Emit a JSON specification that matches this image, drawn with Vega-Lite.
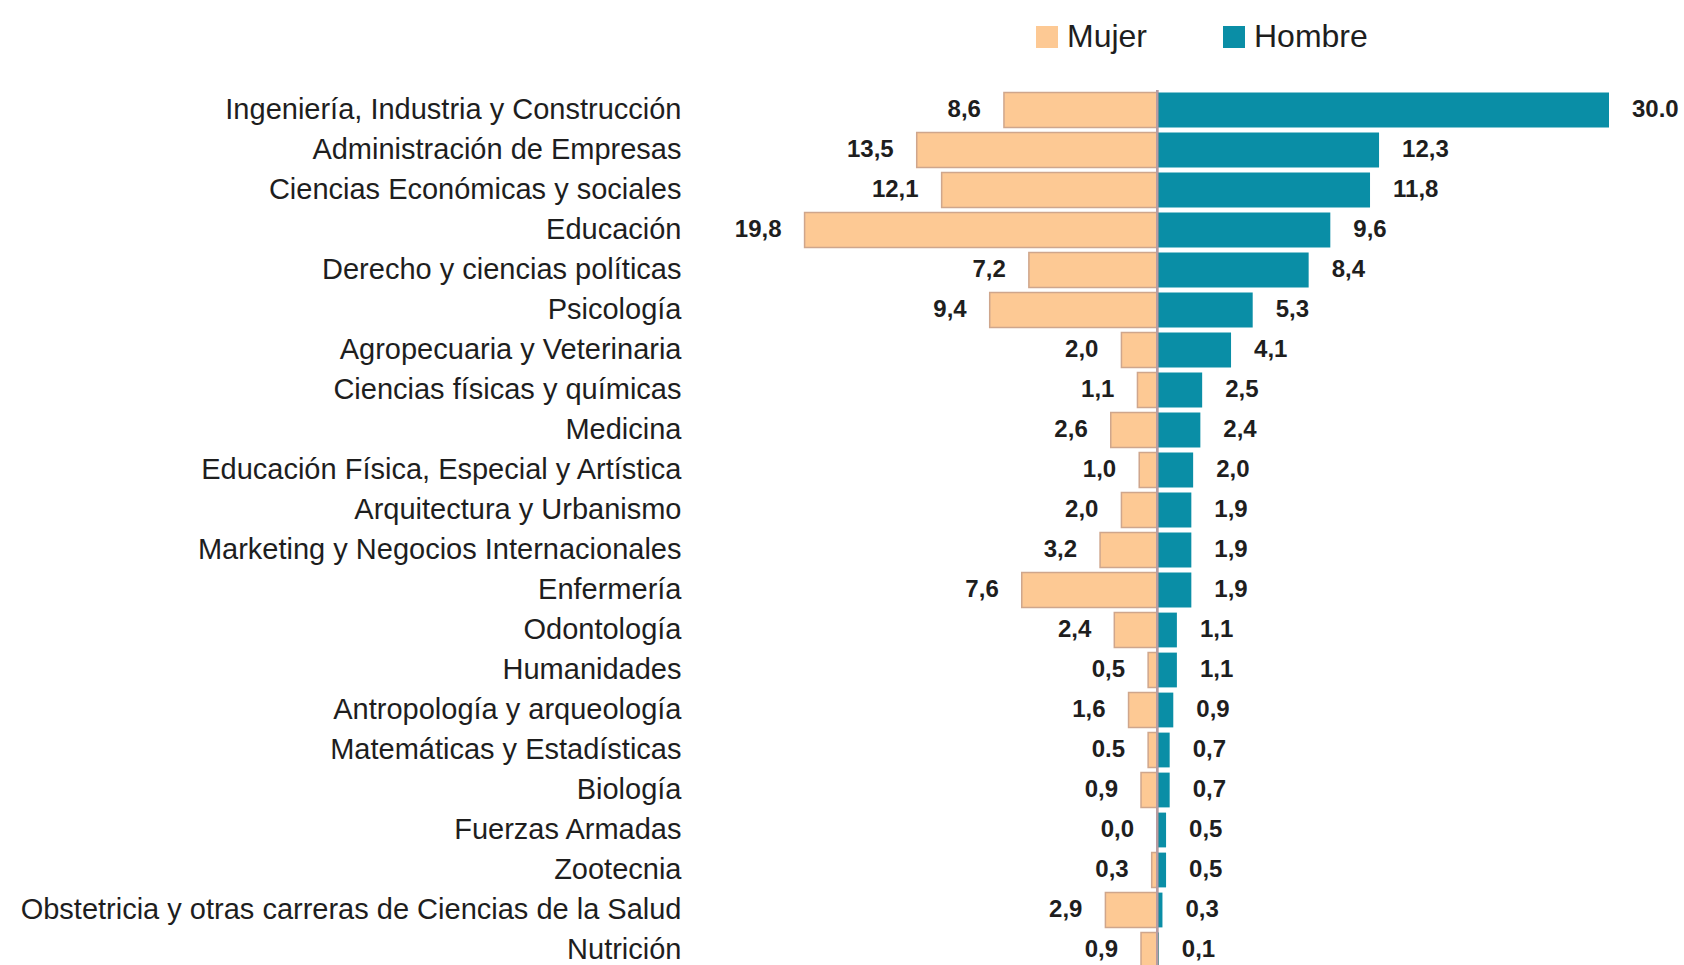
{
  "$schema": "https://vega.github.io/schema/vega-lite/v6.json",
  "autosize": {"type": "none"},
  "width": 918,
  "height": 880,
  "padding": {"left": 691, "top": 90, "right": 75, "bottom": 0},
  "background": "white",
  "data": {"values": [
    {"carrera": "Ingeniería, Industria y Construcción", "mujer": 8.6, "hombre": 30.0, "mujer_txt": "8,6", "hombre_txt": "30.0"},
    {"carrera": "Administración de Empresas", "mujer": 13.5, "hombre": 12.3, "mujer_txt": "13,5", "hombre_txt": "12,3"},
    {"carrera": "Ciencias Económicas y sociales", "mujer": 12.1, "hombre": 11.8, "mujer_txt": "12,1", "hombre_txt": "11,8"},
    {"carrera": "Educación", "mujer": 19.8, "hombre": 9.6, "mujer_txt": "19,8", "hombre_txt": "9,6"},
    {"carrera": "Derecho y ciencias políticas", "mujer": 7.2, "hombre": 8.4, "mujer_txt": "7,2", "hombre_txt": "8,4"},
    {"carrera": "Psicología", "mujer": 9.4, "hombre": 5.3, "mujer_txt": "9,4", "hombre_txt": "5,3"},
    {"carrera": "Agropecuaria y Veterinaria", "mujer": 2.0, "hombre": 4.1, "mujer_txt": "2,0", "hombre_txt": "4,1"},
    {"carrera": "Ciencias físicas y químicas", "mujer": 1.1, "hombre": 2.5, "mujer_txt": "1,1", "hombre_txt": "2,5"},
    {"carrera": "Medicina", "mujer": 2.6, "hombre": 2.4, "mujer_txt": "2,6", "hombre_txt": "2,4"},
    {"carrera": "Educación Física, Especial y Artística", "mujer": 1.0, "hombre": 2.0, "mujer_txt": "1,0", "hombre_txt": "2,0"},
    {"carrera": "Arquitectura y Urbanismo", "mujer": 2.0, "hombre": 1.9, "mujer_txt": "2,0", "hombre_txt": "1,9"},
    {"carrera": "Marketing y Negocios Internacionales", "mujer": 3.2, "hombre": 1.9, "mujer_txt": "3,2", "hombre_txt": "1,9"},
    {"carrera": "Enfermería", "mujer": 7.6, "hombre": 1.9, "mujer_txt": "7,6", "hombre_txt": "1,9"},
    {"carrera": "Odontología", "mujer": 2.4, "hombre": 1.1, "mujer_txt": "2,4", "hombre_txt": "1,1"},
    {"carrera": "Humanidades", "mujer": 0.5, "hombre": 1.1, "mujer_txt": "0,5", "hombre_txt": "1,1"},
    {"carrera": "Antropología y arqueología", "mujer": 1.6, "hombre": 0.9, "mujer_txt": "1,6", "hombre_txt": "0,9"},
    {"carrera": "Matemáticas y Estadísticas", "mujer": 0.5, "hombre": 0.7, "mujer_txt": "0.5", "hombre_txt": "0,7"},
    {"carrera": "Biología", "mujer": 0.9, "hombre": 0.7, "mujer_txt": "0,9", "hombre_txt": "0,7"},
    {"carrera": "Fuerzas Armadas", "mujer": 0.0, "hombre": 0.5, "mujer_txt": "0,0", "hombre_txt": "0,5"},
    {"carrera": "Zootecnia", "mujer": 0.3, "hombre": 0.5, "mujer_txt": "0,3", "hombre_txt": "0,5"},
    {"carrera": "Obstetricia y otras carreras de Ciencias de la Salud", "mujer": 2.9, "hombre": 0.3, "mujer_txt": "2,9", "hombre_txt": "0,3"},
    {"carrera": "Nutrición", "mujer": 0.9, "hombre": 0.1, "mujer_txt": "0,9", "hombre_txt": "0,1"}
  ]},
  "resolve": {"scale": {"x": "independent"}},
  "layer": [
    {
      "mark": {"type": "bar", "stroke": "#cfa68c", "strokeWidth": 1.5},
      "encoding": {
        "y": {"field": "carrera", "type": "nominal", "sort": null, "title": null,
              "scale": {"paddingInner": 0.13, "paddingOuter": 0.065}},
        "x": {"field": "mujer", "type": "quantitative", "axis": null,
              "scale": {"domain": [-25.39, 26.18], "reverse": true, "nice": false, "zero": false}},
        "color": {"datum": "Mujer", "type": "nominal",
                  "scale": {"domain": ["Mujer", "Hombre"], "range": ["#fdc994", "#0a8ea6"]},
                  "legend": {"title": null, "orient": "none", "direction": "horizontal", "legendX": 340, "legendY": -69,
                             "symbolType": "square", "symbolSize": 484, "symbolStrokeWidth": 0, "symbolOpacity": 1,
                             "labelFont": "Liberation Sans", "labelFontSize": 32, "labelColor": "#1e1e1e", "labelOffset": 4,
                             "columnPadding": 70, "padding": 0}}
      }
    },
    {
      "mark": {"type": "text", "align": "right", "baseline": "middle", "dx": -23, "font": "Liberation Sans", "fontWeight": "bold", "fontSize": 24, "color": "#1e1e1e"},
      "encoding": {
        "y": {"field": "carrera", "type": "nominal", "sort": null, "title": null},
        "x": {"field": "mujer", "type": "quantitative", "axis": null,
              "scale": {"domain": [-25.39, 26.18], "reverse": true, "nice": false, "zero": false}},
        "text": {"field": "mujer_txt"}
      }
    },
    {
      "mark": {"type": "bar", "clip": true},
      "encoding": {
        "y": {"field": "carrera", "type": "nominal", "sort": null, "title": null},
        "x": {"field": "hombre", "type": "quantitative", "axis": null,
              "scale": {"domain": [-25.82, 25.04], "nice": false, "zero": false, "clamp": true}},
        "color": {"datum": "Hombre", "type": "nominal"}
      }
    },
    {
      "mark": {"type": "text", "align": "left", "baseline": "middle", "dx": 23, "font": "Liberation Sans", "fontWeight": "bold", "fontSize": 24, "color": "#1e1e1e"},
      "encoding": {
        "y": {"field": "carrera", "type": "nominal", "sort": null, "title": null},
        "x": {"field": "hombre", "type": "quantitative", "axis": null,
              "scale": {"domain": [-25.82, 25.04], "nice": false, "zero": false, "clamp": true}},
        "text": {"field": "hombre_txt"}
      }
    },
    {
      "mark": {"type": "rule", "color": "#b99ca2", "strokeWidth": 2},
      "encoding": {
        "x": {"datum": 0, "type": "quantitative", "axis": null,
              "scale": {"domain": [-25.82, 25.04], "nice": false, "zero": false}}
      }
    }
  ],
  "config": {
    "view": {"stroke": null},
    "axisY": {"labelFont": "Liberation Sans", "labelFontSize": 29, "labelColor": "#1e1e1e", "labelPadding": 10, "ticks": false, "domain": false, "grid": false, "labelLimit": 1000}
  }
}
